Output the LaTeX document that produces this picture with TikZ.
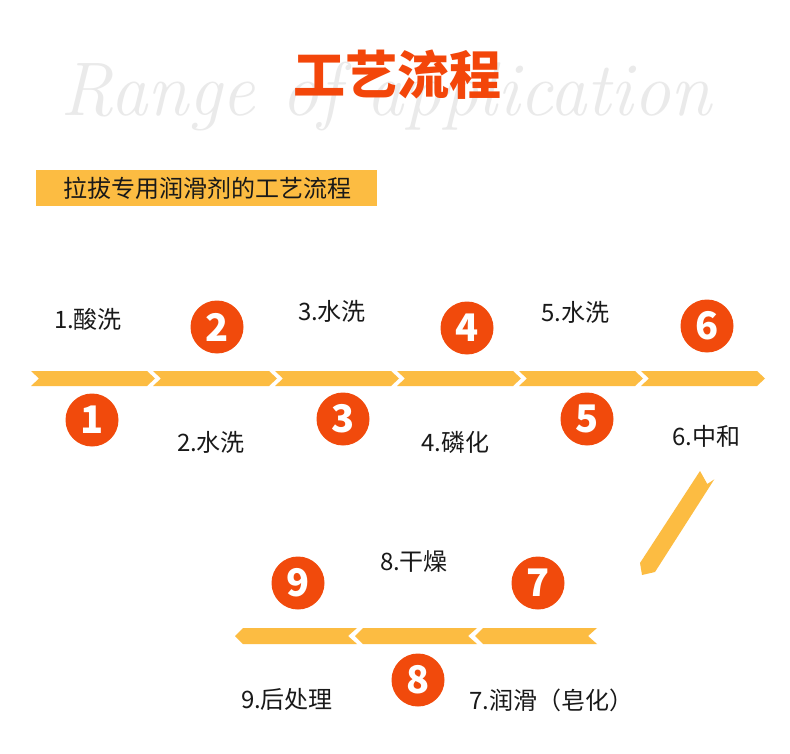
\documentclass[tikz,border=0pt]{standalone}
\usepackage{fontspec}
\newfontfamily\cjk{Noto Sans CJK SC}
\definecolor{arr}{RGB}{252,188,66}
\definecolor{redc}{RGB}{241,74,12}
\definecolor{ttl}{RGB}{243,70,10}
\definecolor{bgt}{RGB}{234,234,234}
\definecolor{txt}{RGB}{25,25,25}
\tikzset{
  numcirc/.style={circle, fill=redc, minimum size=53pt, inner sep=0pt, text=white,
    font=\cjk\bfseries\fontsize{38}{38}\selectfont},
  lbl/.style={text=txt, font=\cjk\fontsize{24}{24}\selectfont, inner sep=0pt},
  band/.style={fill=arr, draw=none}
}
\begin{document}
\begin{tikzpicture}[x=1pt,y=-1pt]
\fill[white] (0,0) rectangle (790,754);
\useasboundingbox (0,0) rectangle (790,754);

% watermark
\node[text=bgt, font=\itshape\fontsize{76}{76}\selectfont, xscale=0.98] (wm) at (386,97) {Range of application};
% title
\node[text=ttl, font=\cjk\bfseries\fontsize{52}{52}\selectfont, inner sep=0pt] (title) at (397,75) {工艺流程};

% banner
\fill[band] (36,170) rectangle (377,206);
\node[lbl, anchor=west] (banner) at (63,188) {拉拔专用润滑剂的工艺流程};

% top arrow band
\foreach \i in {0,...,5} {
  \pgfmathsetmacro\L{31+122*\i}
  \fill[band] (\L,371) -- ++(116,0) -- ++(8,7.5) -- ++(-8,7.5) -- ++(-116,0) -- ++(8,-7.5) -- cycle;
}
% bottom arrow band
\foreach \r in {357,477,597} {
  \fill[band] (\r,628) -- ++(-9,8) -- ++(9,8) -- ++(-114,0) -- ++(-8,-8) -- ++(8,-8) -- cycle;
}
% diagonal arrow
\fill[band] (700,471) -- (707.3,484) -- (714.3,479.3) -- (655,572) -- (642,575) -- (640,563) -- cycle;

% circles
\node[numcirc] (c1) at (92,420) {1};
\node[numcirc] (c2) at (217,327) {2};
\node[numcirc] (c3) at (343,419) {3};
\node[numcirc] (c4) at (467,328) {4};
\node[numcirc] (c5) at (587,419) {5};
\node[numcirc] (c6) at (707,326) {6};
\node[numcirc] (c7) at (538,583) {7};
\node[numcirc] (c8) at (418,680) {8};
\node[numcirc] (c9) at (298,583) {9};

% labels
\node[lbl] (l1) at (88,319) {1.酸洗};
\node[lbl] (l2) at (211,442) {2.水洗};
\node[lbl] (l3) at (332,311) {3.水洗};
\node[lbl] (l4) at (455,442) {4.磷化};
\node[lbl] (l5) at (575,312) {5.水洗};
\node[lbl] (l6) at (706,436) {6.中和};
\node[lbl] (l8) at (414,562) {8.干燥};
\node[lbl] (l9) at (287,699) {9.后处理};
\node[lbl] (l7) at (551,700) {7.润滑（皂化）};
\end{tikzpicture}
\end{document}
